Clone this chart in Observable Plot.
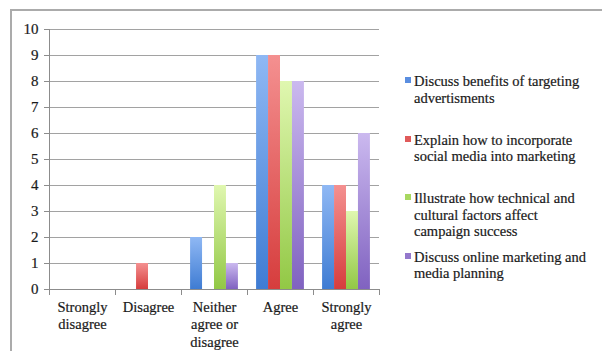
<!DOCTYPE html>
<html>
<head>
<meta charset="utf-8">
<script src="https://cdn.jsdelivr.net/npm/d3@7"></script>
<script src="https://cdn.jsdelivr.net/npm/@observablehq/plot@0.6"></script>
<style>
  body { margin: 0; background: #fff; font-family: "Liberation Serif", serif; }
  #chart { position: relative; width: 602px; height: 351px; overflow: hidden; }
  #border { position: absolute; left: 10px; top: 9px; width: 700px; height: 500px;
            border-top: 2px solid #ababab; border-left: 2px solid #ababab; }
  #plot { position: absolute; left: 0; top: 0; }
  #legend { position: absolute; left: 405px; top: 0; width: 185px; }
  .item { position: absolute; left: 0; width: 185px; }
  .swatch { position: absolute; left: 0; top: 4px; width: 6px; height: 6px; }
  .label { position: absolute; left: 9px; top: 0; width: 176px; font-size: 14.5px;
           line-height: 16.5px; color: #1a1a1a; -webkit-text-stroke: 0.2px #1a1a1a; }
</style>
</head>
<body>
<div id="chart">
  <div id="border"></div>
  <div id="plot"></div>
  <div id="legend"></div>
</div>
<script>
// Response categories along the x axis
const categories = ["Strongly disagree", "Disagree", "Neither agree or disagree", "Agree", "Strongly agree"];
const categoryLabels = ["Strongly\ndisagree", "Disagree", "Neither\nagree or\ndisagree", "Agree", "Strongly\nagree"];

// Learning objectives (series)
const seriesNames = [
  "Discuss benefits of targeting advertisments",
  "Explain how to incorporate social media into marketing",
  "Illustrate how technical and cultural factors affect campaign success",
  "Discuss online marketing and media planning"
];

// Number of responses per category, one array per objective
const targetingValues = [0, 0, 2, 9, 4];
const socialMediaValues = [0, 1, 0, 9, 4];
const technicalValues = [0, 0, 4, 8, 3];
const planningValues = [0, 0, 1, 8, 6];

const yTicks = [0, 1, 2, 3, 4, 5, 6, 7, 8, 9, 10];

// Bar gradients (top → bottom) and flat swatch colours
const gradientStops = [
  ["#8fb8f4", "#3f7cd3"],
  ["#f49090", "#d63d3d"],
  ["#e0f7b0", "#92c845"],
  ["#cbb9ef", "#8062c0"]
];
const swatchColors = ["#5a8ee0", "#e05a5a", "#a8d860", "#9478cc"];

const seriesValues = [targetingValues, socialMediaValues, technicalValues, planningValues];
const data = seriesNames.flatMap((s, si) =>
  categories.map((c, ci) => ({series: s, category: c, value: seriesValues[si][ci]}))
);
const gradientIds = seriesNames.map((_, i) => `url(#bar-grad-${i})`);

const axisGray = "#8c8c8c";
const textColor = "#1a1a1a";

const svg = Plot.plot({
  width: 390,
  height: 351,
  marginLeft: 48,
  marginRight: 11,
  marginTop: 29,
  marginBottom: 62,
  style: {fontFamily: "Liberation Serif, serif", fontSize: "14.5px", color: textColor, background: "transparent", overflow: "visible"},
  fx: {domain: categories, padding: 0, label: null},
  x: {domain: seriesNames, paddingInner: 0, paddingOuter: 0.76, axis: null, round: false},
  y: {domain: [0, 10], label: null},
  color: {domain: seriesNames, range: gradientIds},
  marks: [
    Plot.gridY(yTicks, {stroke: "#a2a2a2", strokeOpacity: 1, strokeWidth: 1}),
    Plot.barY(data, {fx: "category", x: "series", y: "value", fill: "series"}),
    Plot.ruleY([0], {stroke: axisGray, strokeWidth: 1}),
    // y axis line (left-most facet only)
    Plot.frame({anchor: "left", facetAnchor: "left", stroke: axisGray, insetBottom: -2}),
    // category boundary ticks below the baseline
    Plot.frame({anchor: "left", insetTop: 260, insetBottom: -5, stroke: axisGray}),
    Plot.frame({anchor: "right", insetTop: 260, insetBottom: -5, stroke: axisGray}),
    Plot.axisY(yTicks, {tickSize: 5, tickPadding: 6, stroke: axisGray, fill: textColor, fontSize: 15, label: null}),
    Plot.axisFx({anchor: "bottom", tickSize: 0, tickPadding: 10, fill: textColor, fontSize: 14.5, lineHeight: 1.2,
                 tickFormat: c => categoryLabels[categories.indexOf(c)], label: null})
  ]
});

// Slightly heavier text strokes for the axis labels
d3.select(svg).selectAll("text").attr("stroke", textColor).attr("stroke-width", 0.2);

// Vertical gradient per bar
const defs = d3.select(svg).insert("defs", ":first-child");
gradientStops.forEach(([top, bottom], i) => {
  const g = defs.append("linearGradient")
    .attr("id", `bar-grad-${i}`)
    .attr("x1", 0).attr("y1", 0).attr("x2", 0).attr("y2", 1);
  g.append("stop").attr("offset", "0%").attr("stop-color", top);
  g.append("stop").attr("offset", "100%").attr("stop-color", bottom);
});

document.getElementById("plot").appendChild(svg);

// Legend to the right of the plot
const legend = d3.select("#legend");
const legendTop = 73, legendStep = 58.5;
seriesNames.forEach((name, i) => {
  const item = legend.append("div").attr("class", "item").style("top", `${legendTop + i * legendStep}px`);
  item.append("div").attr("class", "swatch").style("background", swatchColors[i]);
  item.append("div").attr("class", "label").text(name);
});
</script>
</body>
</html>
